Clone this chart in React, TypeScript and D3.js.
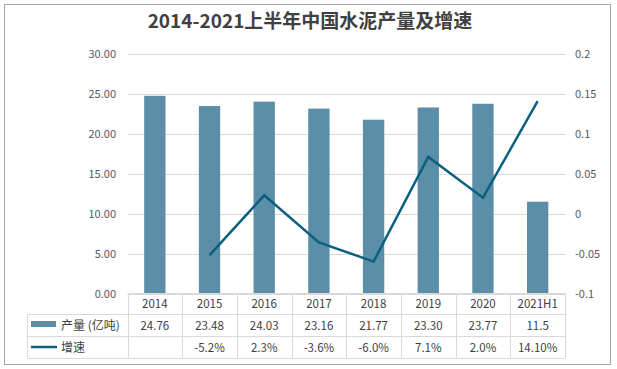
import * as d3 from "d3";

const years = ["2014", "2015", "2016", "2017", "2018", "2019", "2020", "2021H1"];
const output = [24.76, 23.48, 24.03, 23.16, 21.77, 23.3, 23.77, 11.5];
const outputLabels = ["24.76", "23.48", "24.03", "23.16", "21.77", "23.30", "23.77", "11.5"];
const growth: (number | null)[] = [null, -0.052, 0.023, -0.036, -0.06, 0.071, 0.02, 0.141];
const growthLabels = ["", "-5.2%", "2.3%", "-3.6%", "-6.0%", "7.1%", "2.0%", "14.10%"];
const leftTicks = [0, 5, 10, 15, 20, 25, 30];
const rightTicks = [-0.1, -0.05, 0, 0.05, 0.1, 0.15, 0.2];

const W = 617;
const H = 369;
const font = "'Noto Sans CJK SC', 'Noto Sans', sans-serif";
const barColor = "#5b8fa7";
const lineColor = "#0b5f7f";
const gridColor = "#d9d9d9";

export default function App() {
  const x = d3.scaleBand<string>().domain(years).range([127.5, 565]);
  const yL = d3.scaleLinear().domain([0, 30]).range([293.5, 54]);
  const yR = d3.scaleLinear().domain([-0.1, 0.2]).range([293.5, 54]);
  const bw = x.bandwidth() * 0.39;
  const cx = (d: string) => (x(d) || 0) + x.bandwidth() / 2;

  const pts = years
    .map((d, i) => ({ d, v: growth[i] }))
    .filter((p) => p.v !== null) as { d: string; v: number }[];
  const line = d3
    .line<{ d: string; v: number }>()
    .x((p) => cx(p.d))
    .y((p) => yR(p.v));

  const rows = [293.5, 314, 336, 358];
  const tableLeft = 27.5;
  const tableRight = 565;

  return (
    <svg
      width={W}
      height={H}
      style={{ position: "absolute", left: 0, top: 0, background: "#fff" }}
      fontFamily={font}
    >
      <rect x={4.5} y={4.5} width={606} height={360} fill="#fff" stroke="#a6a6a6" />
      <text x={310} y={28} textAnchor="middle" fontSize={19} fontWeight="bold" fill="#404040">
        2014-2021上半年中国水泥产量及增速
      </text>

      {/* gridlines + axis labels */}
      {leftTicks.map((t) => (
        <g key={"l" + t}>
          <line x1={127.5} x2={565} y1={Math.round(yL(t)) + 0.5} y2={Math.round(yL(t)) + 0.5} stroke={gridColor} />
          <text x={116} y={yL(t) + 4} textAnchor="end" fontSize={11} fill="#595959">
            {t.toFixed(2)}
          </text>
        </g>
      ))}
      {rightTicks.map((t) => (
        <text key={"r" + t} x={575} y={yR(t) + 4} fontSize={11} fill="#595959">
          {String(+t.toFixed(2))}
        </text>
      ))}

      {/* bars */}
      {years.map((d, i) => (
        <rect
          key={d}
          x={cx(d) - bw / 2}
          y={yL(output[i])}
          width={bw}
          height={yL(0) - yL(output[i])}
          fill={barColor}
        />
      ))}

      {/* line */}
      <path d={line(pts) || ""} fill="none" stroke={lineColor} strokeWidth={2.5} />

      {/* data table */}
      <line x1={127.5} x2={tableRight} y1={rows[0]} y2={rows[0]} stroke={gridColor} />
      {rows.slice(1).map((r) => (
        <line key={r} x1={tableLeft} x2={tableRight} y1={r + 0.5} y2={r + 0.5} stroke={gridColor} />
      ))}
      <line x1={tableLeft} x2={tableLeft} y1={rows[1]} y2={rows[3]} stroke={gridColor} />
      {years.map((d) => (
        <line
          key={"v" + d}
          x1={Math.round(x(d) || 0) + 0.5}
          x2={Math.round(x(d) || 0) + 0.5}
          y1={rows[0]}
          y2={rows[3]}
          stroke={gridColor}
        />
      ))}
      <line x1={tableRight + 0.5} x2={tableRight + 0.5} y1={rows[0]} y2={rows[3]} stroke={gridColor} />

      {years.map((d, i) => (
        <g key={"t" + d} fontSize={11.5} fill="#404040" textAnchor="middle">
          <text x={cx(d)} y={308}>{d}</text>
          <text x={cx(d)} y={330}>{outputLabels[i]}</text>
          <text x={cx(d)} y={352}>{growthLabels[i]}</text>
        </g>
      ))}

      {/* legend keys */}
      <rect x={31} y={321} width={25} height={6} fill={barColor} />
      <text x={61} y={330} fontSize={12} fill="#404040">产量 (亿吨)</text>
      <line x1={31} x2={57} y1={347} y2={347} stroke={lineColor} strokeWidth={2.5} />
      <text x={61} y={352} fontSize={12} fill="#404040">增速</text>
    </svg>
  );
}
